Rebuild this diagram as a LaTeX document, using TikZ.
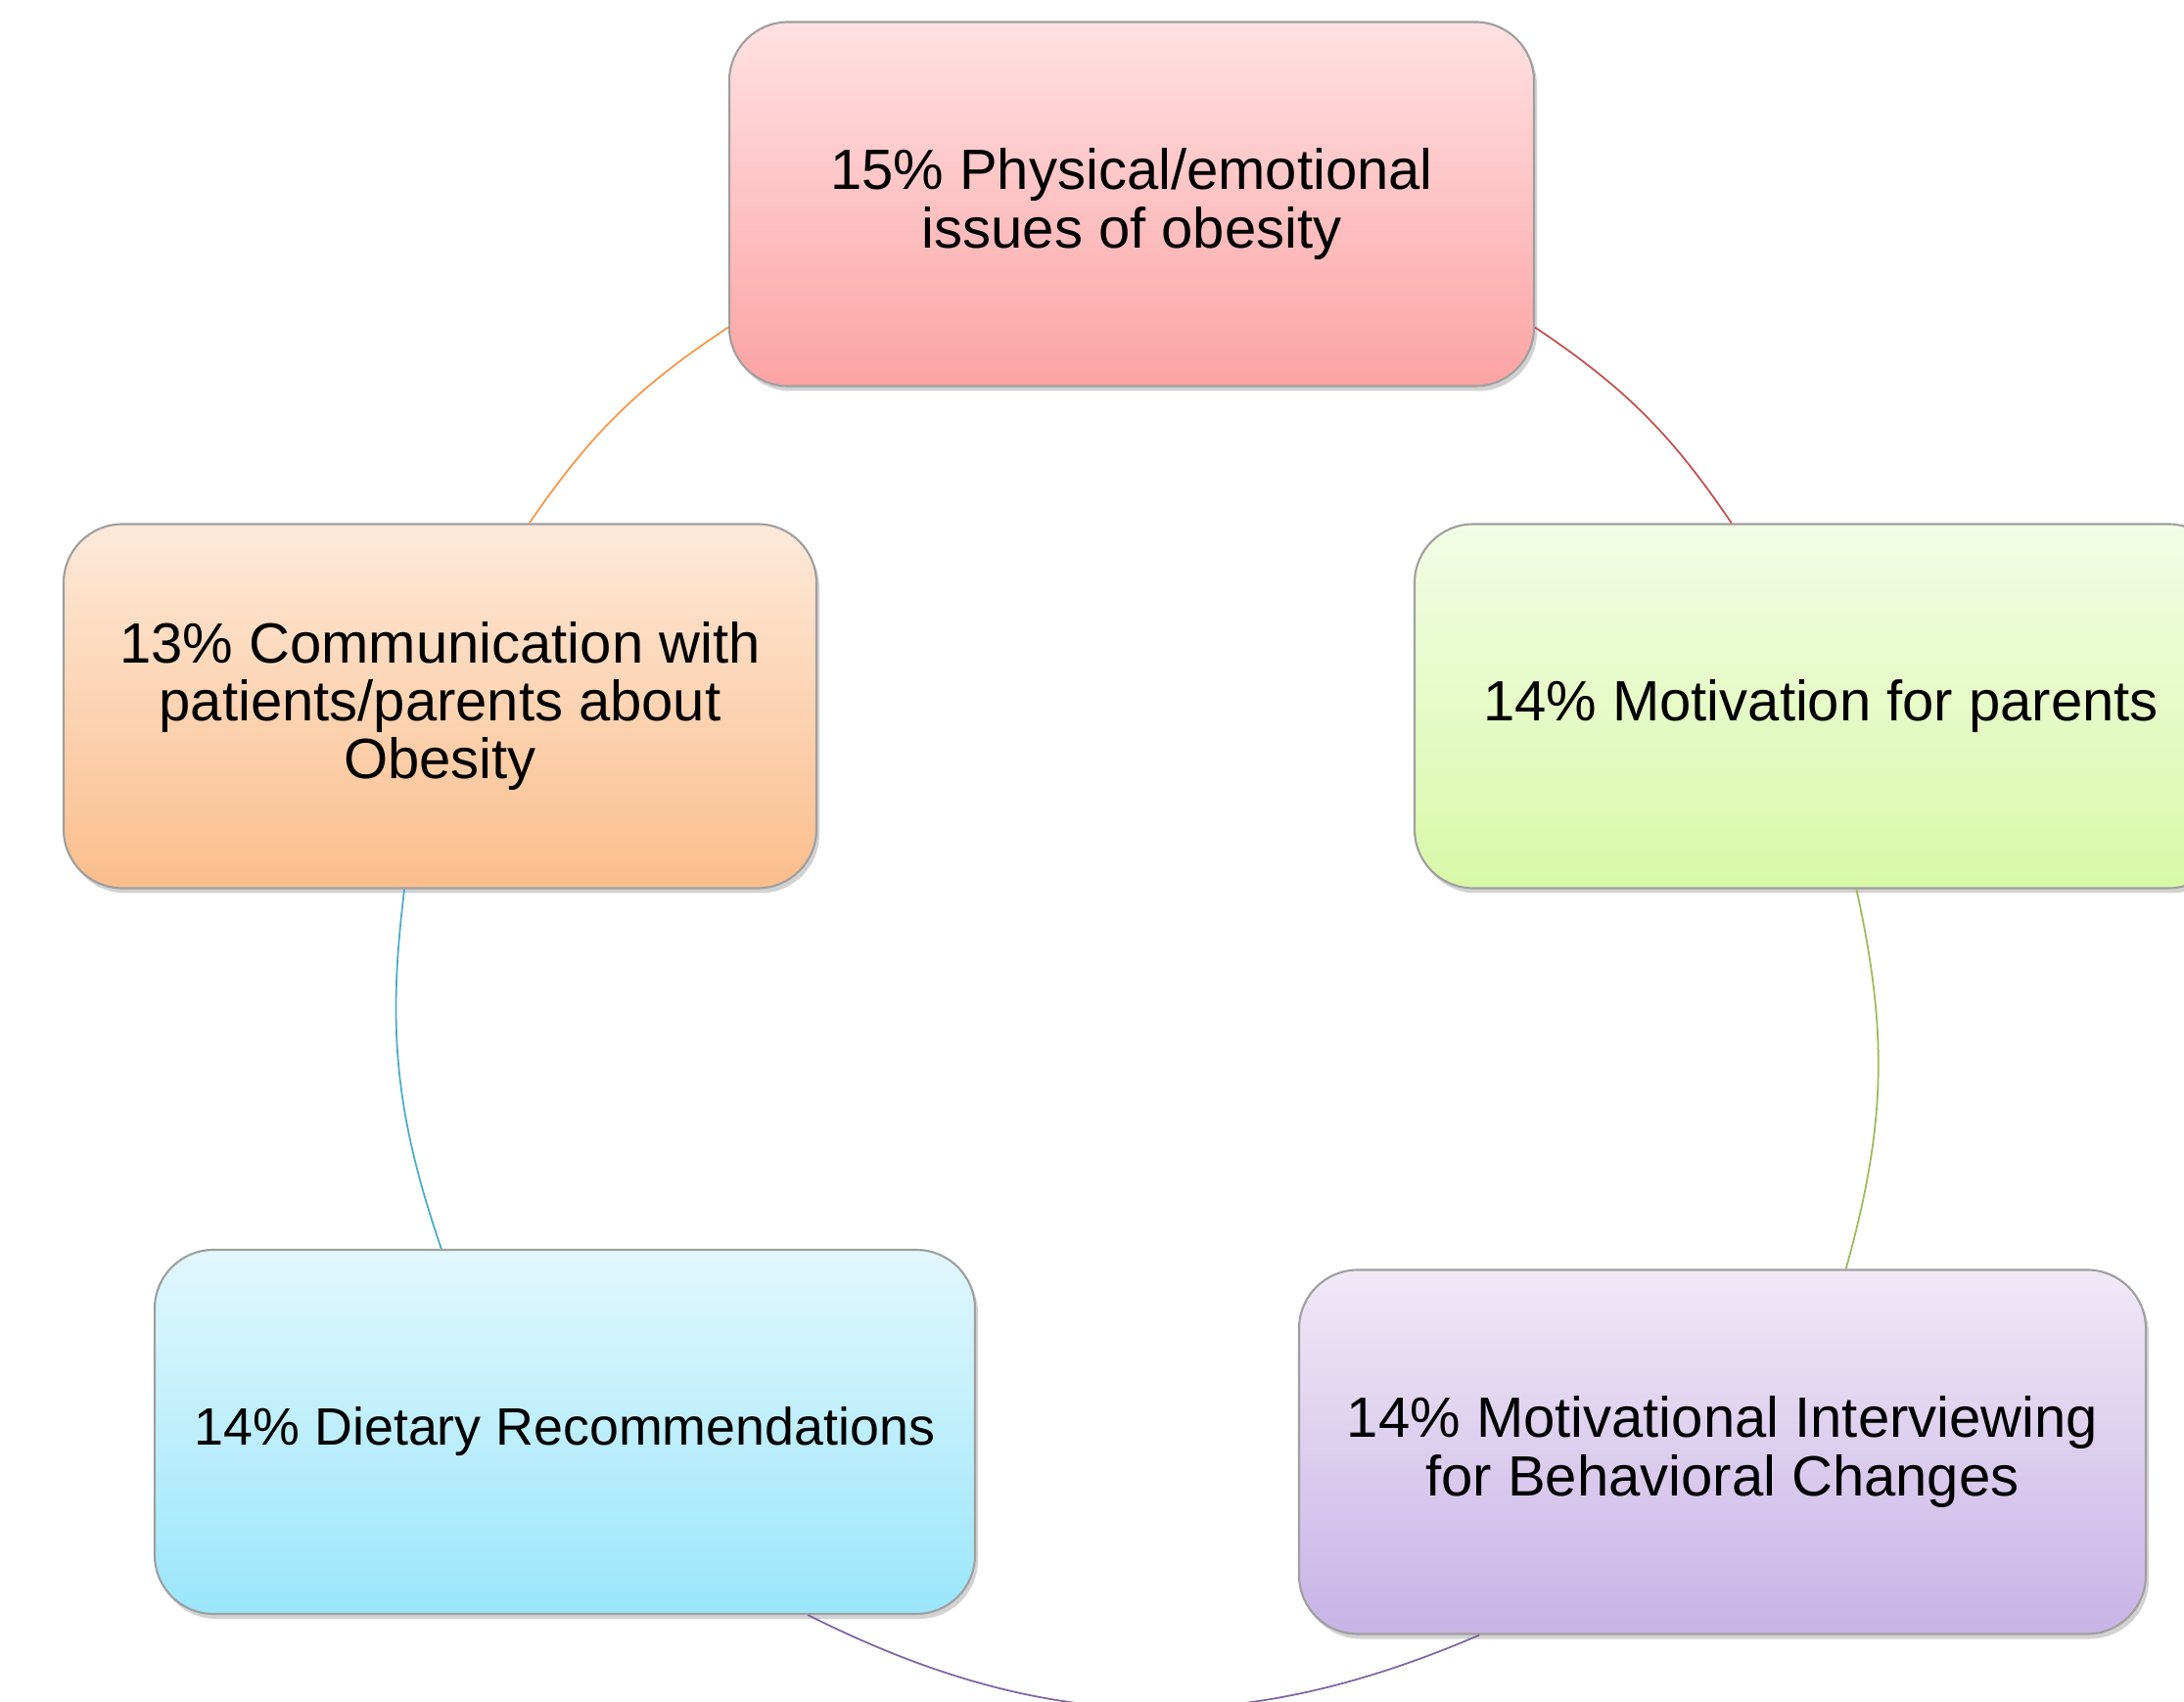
\documentclass[tikz,border=0pt]{standalone}
\usepackage{fontspec}
\setmainfont{Liberation Sans}
\usetikzlibrary{shadows}

% accent colours of the cycle
\definecolor{accRed}{HTML}{C0504D}
\definecolor{accOrange}{HTML}{F79646}
\definecolor{accGreen}{HTML}{9BBB59}
\definecolor{accBlue}{HTML}{4BACC6}
\definecolor{accPurple}{HTML}{8064A2}
% box fills, light top to darker bottom
\definecolor{redTop}{HTML}{FFE1E3}
\definecolor{redBot}{HTML}{FCA3A3}
\definecolor{orangeTop}{HTML}{FDE9D9}
\definecolor{orangeBot}{HTML}{FBBE8C}
\definecolor{greenTop}{HTML}{F3FCE6}
\definecolor{greenBot}{HTML}{D8F9A8}
\definecolor{blueTop}{HTML}{E2F7FD}
\definecolor{blueBot}{HTML}{9AE6FB}
\definecolor{purpleTop}{HTML}{F0E9F7}
\definecolor{purpleBot}{HTML}{C8B3E6}

\begin{document}
\begin{tikzpicture}[
    topic/.style={rounded corners=0.6cm, draw=gray!75, line width=0.6pt,
        align=center, inner sep=0pt, minimum height=3.72cm,
        font=\fontsize{16.5}{16.8}\selectfont,
        drop shadow={shadow xshift=0.03cm, shadow yshift=-0.05cm, opacity=0.25, fill=black!70}},
    link/.style={line width=0.5pt}
]
    \useasboundingbox (0,0) rectangle (22.31,-17.39);
    \clip (0,0) rectangle (22.31,-17.39);

    % Topic boxes
    \node[topic, minimum width=8.22cm, top color=redTop, bottom color=redBot]
        (physical) at (11.56,-2.085) {15\% Physical/emotional\\issues of obesity};
    \node[topic, minimum width=7.69cm, top color=orangeTop, bottom color=orangeBot]
        (comm) at (4.495,-7.215) {13\% Communication with\\patients/parents about\\Obesity};
    \node[topic, minimum width=8.30cm, top color=greenTop, bottom color=greenBot]
        (motiv) at (18.60,-7.215) {14\% Motivation for parents};
    \node[topic, minimum width=8.38cm, top color=blueTop, bottom color=blueBot,
        font=\fontsize{15.3}{16}\selectfont]
        (diet) at (5.77,-14.63) {14\% Dietary Recommendations};
    \node[topic, minimum width=8.65cm, top color=purpleTop, bottom color=purpleBot]
        (interview) at (17.595,-14.835) {14\% Motivational Interviewing\\for Behavioral Changes};

    % Cycle arcs
    \draw[link, accOrange] (physical.197) to[bend right=11] (comm.64);
    \draw[link, accRed] (physical.343) to[bend left=11] (motiv.116);
    \draw[link, accGreen] (motiv.-79) to[bend left=14] (interview.56);
    \draw[link, accBlue] (comm.259) to[bend right=13] (diet.124);
    \draw[link, accPurple] (diet.-37) to[bend right=25] (interview.217);
\end{tikzpicture}
\end{document}
